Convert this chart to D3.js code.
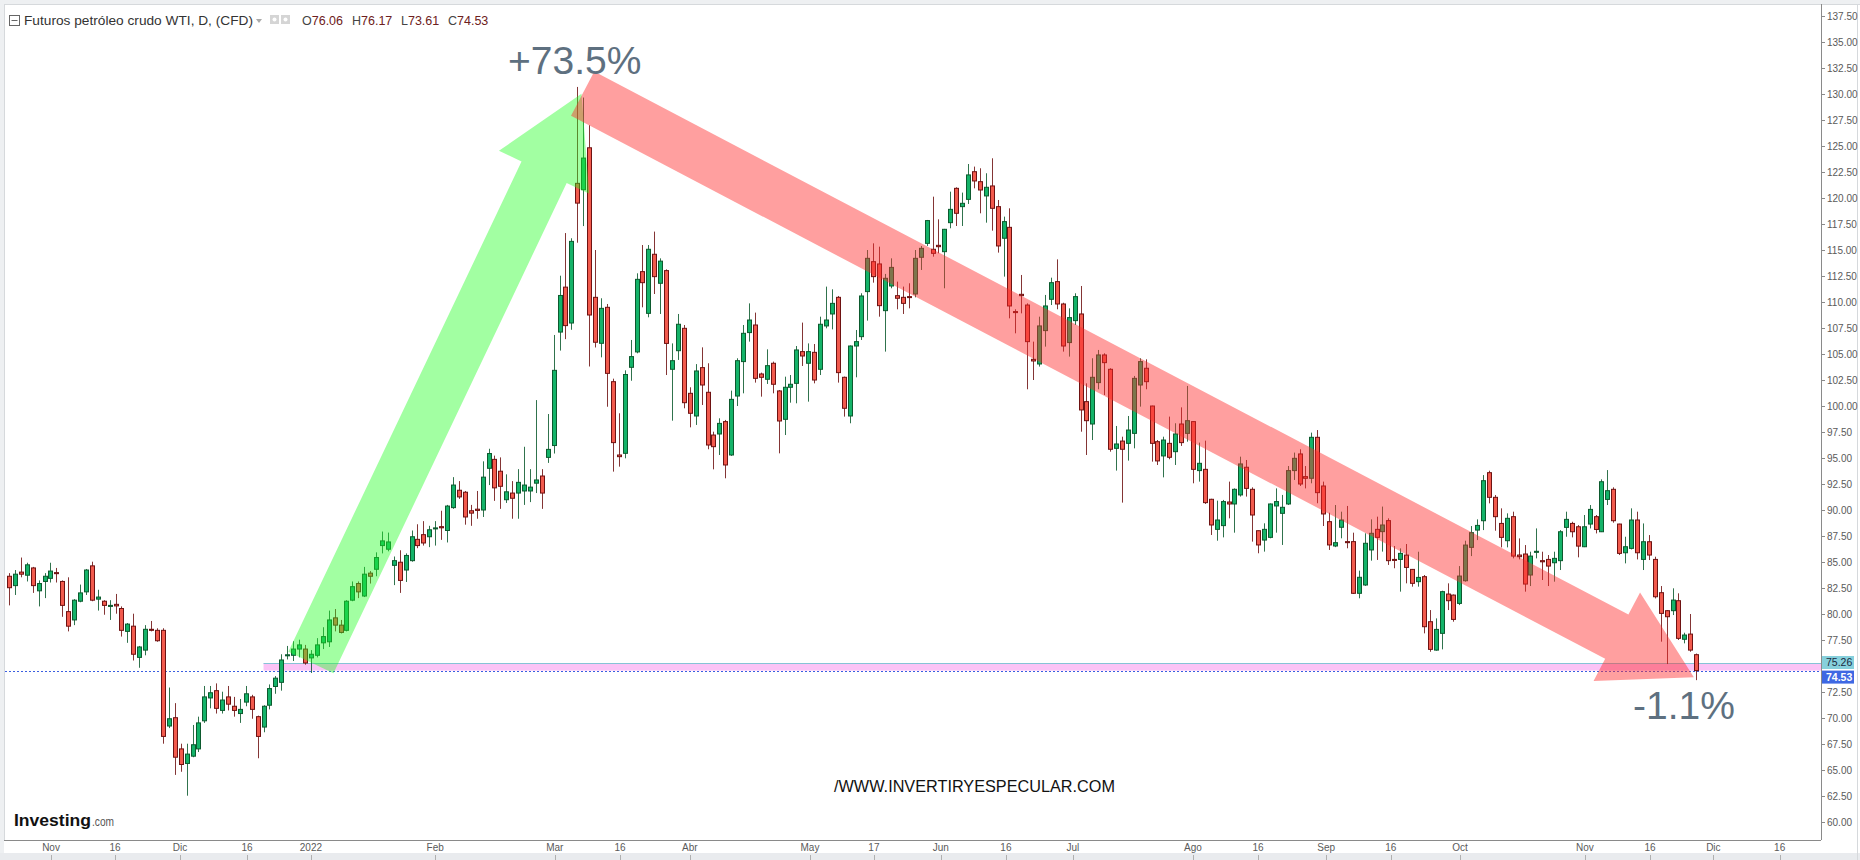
<!DOCTYPE html>
<html><head><meta charset="utf-8">
<script src="https://cdn.jsdelivr.net/npm/d3@7"></script>
<style>html,body{margin:0;padding:0;background:#fff;}svg{display:block;font-family:'Liberation Sans',Arial,sans-serif;}</style>
</head><body><svg id="c" width="1860" height="860"></svg>
<script>
// ---- data (daily candles, WTI CFD) ----
const opens = [83.6,82.7,84.0,83.7,84.4,82.2,83.1,83.4,83.95,83.1,80.2,79.4,81.2,82.1,84.6,81.4,81.2,80.7,80.9,80.5,78.3,78.8,75.8,76.5,78.5,78.4,78.4,69.2,70.0,67.0,65.6,66.3,67.0,69.7,71.9,72.6,70.7,72.0,71.1,70.4,71.5,72.0,70.1,69.1,71.2,73.0,73.4,75.95,76.0,76.6,
76.6,75.75,76.0,77.2,77.3,79.6,78.9,78.4,81.3,82.9,81.7,83.9,84.27,86.55,86.2,84.65,84.95,84.2,85.1,87.15,87.6,87.4,88.2,88.37,88.0,90.2,91.87,91.68,89.9,90.05,89.97,93.98,94.84,93.7,90.96,91.6,91.6,91.8,91.8,92.55,93.24,95.03,96.17,107.08,111.4,107.95,121.38,120.77,124.8,
110.42,106.0,109.46,102.31,95.26,95.42,103.69,105.17,112.89,108.88,114.56,111.77,112.99,103.5,105.29,107.44,101.19,99.01,103.66,101.29,97.18,97.28,98.47,95.26,100.93,104.24,107.03,107.76,103.05,102.54,104.08,101.42,98.69,101.77,102.15,105.2,104.08,105.13,103.5,107.67,108.82,110.42,102.73,99.01,105.74,106.64,110.97,113.85,113.63,109.14,111.51,110.58,110.42,110.49,110.74,114.27,115.61,115.04,115.42,114.81,117.6,120.9,119.14,119.84,122.5,121.54,120.17,121.13,119.14,
116.1,117.15,109.05,110.71,109.68,104.46,104.01,107.22,110.23,111.93,109.78,106.07,108.18,108.82,100.39,98.24,102.22,104.88,103.5,95.9,96.6,96.38,97.34,101.99,103.6,99.97,96.54,95.17,96.38,95.58,98.24,97.34,98.47,93.76,93.88,91.0,88.11,88.47,90.74,90.55,91.42,94.08,91.96,87.98,87.08,87.34,90.36,89.65,90.55,93.76,95.36,93.18,93.02,96.96,92.28,88.85,86.51,88.31,86.93,86.93,81.96,82.76,86.13,88.11,87.89,88.95,85.22,
85.22,85.64,84.26,83.08,83.56,79.23,76.5,78.11,81.89,81.79,80.99,83.17,86.38,88.04,88.94,93.56,91.19,88.68,87.02,89.33,85.64,85.74,83.72,85.9,85.1,85.22,84.9,85.1,88.3,88.68,88.36,86.44,88.62,89.33,87.88,90.99,91.96,88.62,85.86,86.28,89.01,85.22,86.92,85.22,82.02,80.29,80.29,81.25,77.54,78.04,76.06];
const highs = [83.9,84.2,85.4,84.9,84.5,83.2,83.9,84.9,84.4,83.2,83.5,81.4,82.8,84.3,85.0,82.3,81.3,81.3,81.9,80.7,79.1,80.0,76.9,78.9,79.3,78.6,78.6,72.9,71.4,67.5,67.5,69.3,70.1,73.05,73.05,73.3,72.5,73.05,72.0,71.8,73.05,72.2,70.2,71.2,73.2,74.0,76.1,76.9,77.35,77.5,
77.0,76.5,77.65,78.7,80.3,80.45,79.4,81.3,83.1,83.1,84.5,84.1,85.9,87.9,87.8,85.5,86.1,85.8,88.0,88.6,88.9,88.45,88.9,89.9,90.46,93.13,92.75,91.8,90.46,91.8,94.65,95.86,95.2,95.03,93.4,92.75,93.9,96.05,93.9,100.54,93.9,99.2,106.8,112.5,116.6,116.1,130.65,129.63,126.97,
114.97,110.33,109.78,102.6,99.27,103.4,106.32,112.73,115.45,115.45,116.74,114.17,113.11,105.99,108.82,107.76,101.77,104.0,105.61,104.08,97.5,98.79,98.63,101.45,104.56,107.76,109.84,108.95,103.18,105.42,104.24,101.51,102.79,102.95,105.74,107.99,105.99,105.93,108.56,111.45,111.19,110.55,102.8,105.8,107.28,110.81,114.97,115.61,115.29,112.67,114.17,111.93,111.45,111.77,114.97,115.36,117.86,120.1,117.92,117.0,120.58,121.0,120.49,123.24,122.99,122.83,122.35,123.79,119.78,
118.18,118.98,109.27,112.57,109.84,106.16,108.56,110.65,112.31,114.07,109.9,109.36,110.81,111.51,102.15,104.56,105.36,105.04,103.6,98.05,97.02,99.01,102.86,104.56,104.46,100.0,96.7,97.02,98.95,98.31,99.84,101.9,98.5,96.45,96.64,91.05,90.87,90.94,92.7,92.05,95.1,94.78,92.15,88.0,88.69,90.6,92.05,91.42,94.2,95.49,95.81,94.2,97.41,97.66,92.7,89.71,90.45,89.81,90.36,87.79,84.14,87.73,89.07,89.33,90.3,89.17,86.51,
86.28,86.7,84.3,85.96,83.72,80.35,79.55,82.21,82.92,81.85,84.58,87.02,88.43,89.07,93.33,93.75,91.41,90.13,89.65,89.81,87.24,86.6,85.96,88.2,85.96,85.64,85.96,88.04,89.81,88.84,88.52,89.49,90.45,89.49,92.92,93.81,92.15,88.65,87.4,90.13,89.81,88.68,87.56,85.48,82.66,80.35,82.44,81.96,78.17,79.97,76.17];
const lows = [80.8,81.8,83.5,83.1,82.0,80.7,81.5,83.0,83.0,79.7,78.3,78.9,81.1,81.8,81.2,80.3,79.9,79.4,80.0,77.8,77.2,75.5,74.8,76.0,78.3,77.3,67.5,69.0,64.5,64.8,62.5,66.2,66.7,69.5,70.9,70.4,70.4,70.7,70.1,69.5,71.1,69.9,66.1,68.6,70.8,72.3,72.6,75.6,75.45,75.8,
75.1,74.3,75.8,76.6,76.8,78.3,78.1,78.3,81.2,81.5,81.6,82.9,83.6,85.8,86.0,82.75,82.0,83.05,85.0,86.3,86.55,86.4,86.55,87.1,86.85,90.08,91.04,88.56,88.45,89.13,89.3,92.37,90.85,90.08,90.65,89.13,89.13,90.46,90.73,91.6,90.08,94.5,95.4,105.3,106.4,107.3,115.67,117.27,103.77,
105.6,104.65,99.9,93.66,94.14,94.94,102.4,105.04,109.46,108.5,110.74,108.82,102.95,98.56,104.4,99.75,97.92,98.15,100.07,95.81,93.88,95.26,93.02,95.17,99.97,101.19,106.16,102.22,100.87,102.09,101.19,95.42,97.18,100.29,100.23,103.82,100.39,102.15,102.95,107.44,107.34,102.22,98.95,98.31,102.73,106.32,108.18,111.83,108.56,105.2,111.29,109.27,108.82,109.36,110.42,113.05,115.36,114.33,114.65,111.29,117.06,117.28,117.28,119.4,120.9,118.5,117.6,116.83,114.72,
112.41,108.4,106.96,108.88,101.58,102.47,103.76,105.68,109.68,109.27,105.2,104.72,107.76,97.5,95.26,96.7,101.58,101.03,95.58,93.76,90.68,94.72,95.9,99.91,101.58,94.62,94.3,93.11,94.85,94.3,96.13,96.54,92.54,92.7,90.55,87.57,87.02,87.34,89.17,87.79,91.26,91.26,86.93,85.81,85.97,87.25,87.79,86.61,90.45,92.86,92.28,92.05,92.54,90.62,88.43,86.13,86.4,87.25,86.29,81.9,81.48,82.67,85.1,85.17,85.97,84.69,84.37,
82.12,82.92,82.6,82.6,78.11,76.34,76.44,76.57,80.35,79.23,80.83,83.08,85.54,87.08,88.04,90.61,87.98,86.38,86.38,85.32,85.22,82.12,82.66,85.32,83.24,82.66,83.08,84.2,87.4,87.34,85.42,86.4,88.2,87.72,87.85,90.45,88.75,85.64,84.84,86.18,85.22,84.2,85.16,81.47,77.31,75.16,79.87,77.47,77.15,76.34,73.61];
const closes = [82.5,83.8,83.8,84.7,82.7,82.9,83.6,84.1,83.85,80.8,78.8,81.3,82.0,84.2,81.3,81.6,80.8,80.8,80.75,78.4,79.0,76.1,76.8,78.5,78.4,77.4,68.2,69.9,66.2,65.5,66.5,67.4,69.5,72.0,72.4,70.9,71.7,71.3,70.7,70.8,72.3,70.8,68.2,71.1,72.8,73.8,75.55,76.05,76.6,77.0,
75.26,76.1,77.0,77.8,79.4,78.9,78.2,81.2,82.6,82.1,83.8,83.6,85.4,87.0,86.9,85.1,83.2,85.6,87.4,86.55,86.8,88.07,88.25,88.26,90.35,92.37,91.23,89.3,89.67,89.93,93.13,95.4,92.1,92.25,91.72,91.1,92.63,92.37,92.17,92.86,91.6,95.8,103.4,110.6,107.7,115.8,119.48,123.81,108.72,
106.1,109.36,103.11,96.45,95.1,103.0,104.72,112.15,111.83,115.04,112.41,113.9,105.99,104.33,107.83,100.29,99.27,103.34,101.99,96.22,96.06,98.3,94.3,100.61,104.33,106.96,108.24,102.63,102.73,103.85,102.06,98.53,101.77,102.06,105.36,104.78,105.2,102.47,107.83,108.24,109.84,103.18,99.75,105.74,106.16,110.55,114.17,112.41,109.62,112.25,113.3,110.33,109.84,110.42,114.17,115.13,117.8,114.65,115.29,116.96,118.88,118.5,119.46,122.19,121.61,120.74,121.0,118.98,115.36,
117.7,109.59,108.95,110.58,106.16,104.3,107.67,109.59,111.83,109.78,105.74,108.47,110.49,99.59,98.56,102.73,104.88,104.14,95.81,96.32,95.81,97.66,102.63,104.24,102.31,96.38,94.69,96.7,95.04,97.28,96.45,98.56,93.88,94.46,90.68,88.53,89.01,90.78,90.55,91.96,94.4,92.05,89.49,86.61,88.11,90.55,90.78,90.23,93.76,94.94,92.47,93.02,96.96,91.64,89.59,86.61,86.83,89.01,86.83,81.96,83.5,86.77,87.73,87.34,88.53,85.1,85.17,
85.8,84.45,82.92,83.49,78.75,76.57,78.49,82.12,81.25,79.45,83.62,86.6,87.79,88.49,92.79,91.19,89.33,87.34,89.17,85.54,85.48,82.85,85.54,86.0,84.99,84.58,85.32,87.88,89.07,87.88,86.5,88.36,90.03,88.1,92.69,91.83,88.94,85.8,86.44,89.01,85.86,86.92,85.64,81.63,80.03,79.71,81.31,77.63,77.95,76.5,74.53];

// x-axis labels at bar-index positions
const xTickLabels = ["Nov","16","Dic","16","2022","Feb","Mar","16","Abr","May","17","Jun","16","Jul","Ago","16","Sep","16","Oct","Nov","16","Dic","16"];
const xTickIndex  = [8.1,18.9,29.9,41.2,52.0,73.0,93.2,104.2,116.0,136.3,147.1,158.4,169.4,180.7,201.0,212.0,223.5,234.4,246.1,267.2,278.2,288.9,300.1];
// price-axis ticks
const yTicks = d3.range(60, 137.51, 2.5);
// annotations
const arrowUp   = {from:[52.0, 75.3], to:[97.7, 130.0]};
const arrowDown = {from:[97.9, 130.0], to:[285.6, 73.9]};
const lastPrice = 74.53, levelPrice = 75.26, levelStart = 44;
const titleText = "Futuros petróleo crudo WTI, D, (CFD)";
const ohlcText = [["O","76.06"],["H","76.17"],["L","73.61"],["C","74.53"]];

// ---- drawing ----
const svg = d3.select("#c");
const x = d3.scaleLinear().domain([1, 286]).range([9, 1696.2]);
const y = d3.scaleLinear().domain([60, 137.5]).range([821.7, 15.7]);
const axisX = 1821, axisY = 840;

// frame
svg.append("rect").attr("x",0).attr("y",0).attr("width",1860).attr("height",4).attr("fill","#eef0f2");
svg.append("line").attr("x1",0).attr("x2",1860).attr("y1",4.5).attr("y2",4.5).attr("stroke","#d6d9dc");
svg.append("rect").attr("x",0).attr("y",4).attr("width",4).attr("height",856).attr("fill","#eef0f2");
svg.append("line").attr("x1",4.5).attr("x2",4.5).attr("y1",4).attr("y2",axisY).attr("stroke","#d6d9dc");
svg.append("rect").attr("x",0).attr("y",853).attr("width",1860).attr("height",7).attr("fill","#e9ebee");
svg.append("line").attr("x1",1857.5).attr("x2",1857.5).attr("y1",4).attr("y2",860).attr("stroke","#d6d9dc");

// level band + dotted last-price line
svg.append("rect").attr("x",x(levelStart)).attr("y",y(levelPrice))
  .attr("width",axisX-x(levelStart)).attr("height",y(lastPrice)-y(levelPrice)).attr("fill","#fbc3f6");
svg.append("line").attr("x1",x(levelStart)).attr("x2",axisX).attr("y1",Math.round(y(levelPrice))+0.5).attr("y2",Math.round(y(levelPrice))+0.5)
  .attr("stroke","#86c3d6").attr("stroke-width",1);
svg.append("line").attr("x1",5).attr("x2",axisX).attr("y1",Math.round(y(lastPrice))+0.5).attr("y2",Math.round(y(lastPrice))+0.5)
  .attr("stroke","#3b5fe0").attr("stroke-width",1).attr("stroke-dasharray","2,2");

// candles
const data = opens.map((o,i)=>({i:i+1,o,h:highs[i],l:lows[i],c:closes[i]}));
const g = svg.append("g");
data.forEach(d=>{
  const up = d.c >= d.o;
  const cx = Math.round(x(d.i));
  const dark = up ? "#0c5a2e" : "#6e1212";
  g.append("line").attr("x1",cx+0.5).attr("x2",cx+0.5).attr("y1",y(d.h)).attr("y2",y(d.l))
    .attr("stroke",dark).attr("stroke-width",1).attr("stroke-opacity",0.85);
  const top = y(Math.max(d.o,d.c)), bot = y(Math.min(d.o,d.c));
  g.append("rect").attr("x",cx-1.5).attr("y",top).attr("width",4).attr("height",Math.max(1,bot-top))
    .attr("fill", up ? "#14b369" : "#f25a4d").attr("stroke",dark).attr("stroke-width",1);
});

// arrows
function arrowPath(a){
  const p0=[x(a.from[0]),y(a.from[1])], p1=[x(a.to[0]),y(a.to[1])];
  const dx=p1[0]-p0[0], dy=p1[1]-p0[1], L=Math.hypot(dx,dy);
  const u=[dx/L,dy/L], n=[-u[1],u[0]];
  const sw=25, hw=50, hl=87;
  const b=[p1[0]-u[0]*hl, p1[1]-u[1]*hl];
  const pts=[
    [p0[0]+n[0]*sw,p0[1]+n[1]*sw],[b[0]+n[0]*sw,b[1]+n[1]*sw],[b[0]+n[0]*hw,b[1]+n[1]*hw],
    p1,[b[0]-n[0]*hw,b[1]-n[1]*hw],[b[0]-n[0]*sw,b[1]-n[1]*sw],[p0[0]-n[0]*sw,p0[1]-n[1]*sw]];
  return "M"+pts.map(p=>p.join(",")).join("L")+"Z";
}
svg.append("path").attr("d",arrowPath(arrowUp)).attr("fill","#22ff22").attr("fill-opacity",0.42);
svg.append("path").attr("d",arrowPath(arrowDown)).attr("fill","#ff2a2a").attr("fill-opacity",0.45);

// axes
svg.append("line").attr("x1",axisX+0.5).attr("x2",axisX+0.5).attr("y1",4).attr("y2",axisY).attr("stroke","#8a8a8a");
svg.append("line").attr("x1",4).attr("x2",axisX).attr("y1",axisY+0.5).attr("y2",axisY+0.5).attr("stroke","#8a8a8a");
const ya = svg.append("g");
yTicks.forEach(v=>{
  const yy=Math.round(y(v))+0.5;
  ya.append("line").attr("x1",axisX).attr("x2",axisX+4).attr("y1",yy).attr("y2",yy).attr("stroke","#8a8a8a");
  // tick labels hidden behind the price boxes are not shown
  if (Math.abs(y(v) - y(levelPrice)) < 12 || Math.abs(y(v) - y(lastPrice)) < 12) return;
  ya.append("text").attr("x",axisX+6).attr("y",yy+3.5).attr("font-size",10).attr("fill","#5a5a5a").text(v.toFixed(2));
});
const xa = svg.append("g");
xTickLabels.forEach((t,k)=>{
  const xx = x(xTickIndex[k]);
  xa.append("text").attr("x",xx).attr("y",851).attr("text-anchor","middle").attr("font-size",10).attr("fill","#5a5a5a").text(t);
  xa.append("line").attr("x1",Math.round(xx)+0.5).attr("x2",Math.round(xx)+0.5).attr("y1",855).attr("y2",860).attr("stroke","#b0b0b0");
});

// price labels on axis
svg.append("rect").attr("x",axisX+1).attr("y",y(levelPrice)-7).attr("width",32).attr("height",13).attr("fill","#86d0dc");
svg.append("text").attr("x",axisX+5).attr("y",y(levelPrice)+3.5).attr("font-size",10.5).attr("fill","#1a2a40").text(levelPrice.toFixed(2));
svg.append("rect").attr("x",axisX+1).attr("y",y(lastPrice)).attr("width",32).attr("height",13).attr("fill","#3e68e3");
svg.append("text").attr("x",axisX+5).attr("y",y(lastPrice)+10).attr("font-size",10.5).attr("font-weight","bold").attr("fill","#ffffff").text(lastPrice.toFixed(2));

// title row
svg.append("rect").attr("x",9.5).attr("y",15.5).attr("width",10).attr("height",10).attr("fill","none").attr("stroke","#666");
svg.append("line").attr("x1",11.5).attr("x2",17.5).attr("y1",20.5).attr("y2",20.5).attr("stroke","#666");
svg.append("text").attr("x",24).attr("y",25).attr("font-size",13).attr("fill","#333").attr("textLength",229).attr("lengthAdjust","spacingAndGlyphs").text(titleText);
svg.append("path").attr("d","M256,19 L262,19 L259,23 Z").attr("fill","#aaa");
svg.append("rect").attr("x",270).attr("y",15).attr("width",9).attr("height",9).attr("fill","#d5d5d5");
svg.append("rect").attr("x",281).attr("y",15).attr("width",9).attr("height",9).attr("fill","#d5d5d5");
svg.append("circle").attr("cx",274.5).attr("cy",19.5).attr("r",2).attr("fill","#fff");
svg.append("circle").attr("cx",285.5).attr("cy",19.5).attr("r",2).attr("fill","#fff");
const ohlcX=[302,352,401,448];
ohlcText.forEach((p,k)=>{
  const t=svg.append("text").attr("x",ohlcX[k]).attr("y",25).attr("font-size",12.5).attr("fill","#6d2020");
  t.append("tspan").attr("fill","#444").text(p[0]);
  t.append("tspan").text(p[1]);
});

// annotations text
svg.append("text").attr("x",508).attr("y",74).attr("font-size",39).attr("fill","#5e7080").text("+73.5%");
svg.append("text").attr("x",1633).attr("y",719).attr("font-size",39).attr("fill","#5e7080").text("-1.1%");
svg.append("text").attr("x",834).attr("y",792).attr("font-size",17).attr("fill","#111").attr("textLength",281).attr("lengthAdjust","spacingAndGlyphs").text("/WWW.INVERTIRYESPECULAR.COM");
svg.append("text").attr("x",14).attr("y",826).attr("font-size",17).attr("font-weight","bold").attr("fill","#111").attr("textLength",77).attr("lengthAdjust","spacingAndGlyphs").text("Investing");
svg.append("text").attr("x",92).attr("y",826).attr("font-size",13).attr("fill","#555").attr("textLength",22).attr("lengthAdjust","spacingAndGlyphs").text(".com");
</script></body></html>
